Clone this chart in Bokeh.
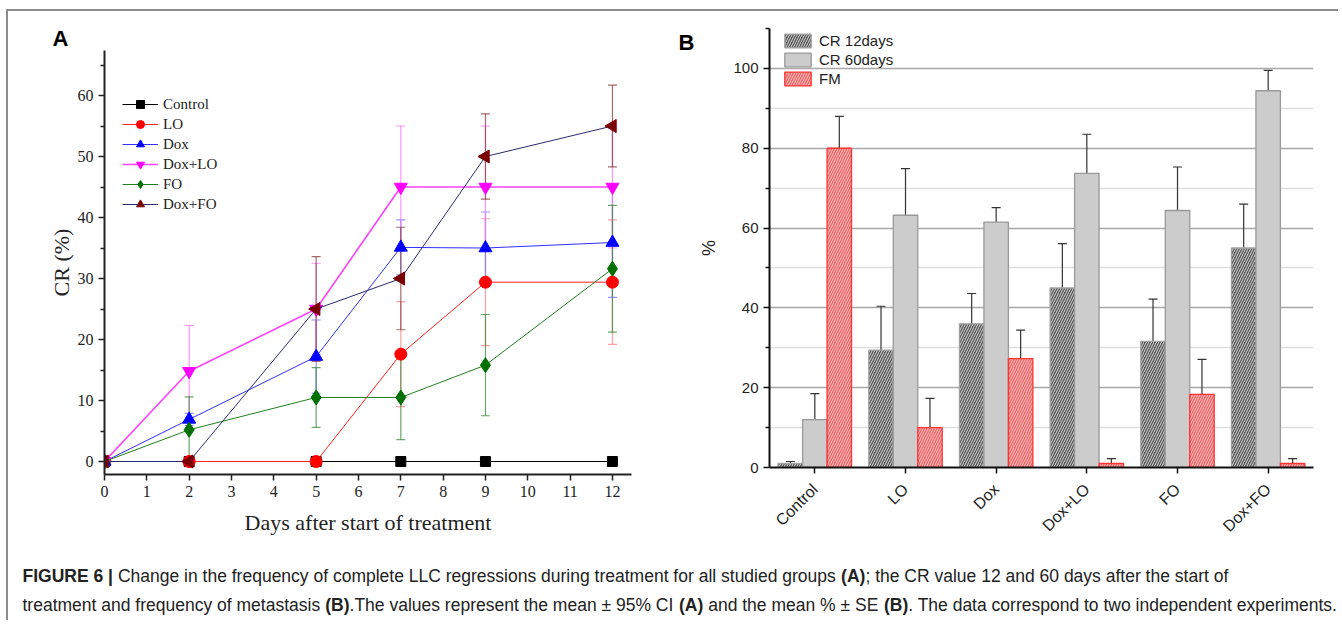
import numpy as np
from bokeh.plotting import figure
from bokeh.models import (Range1d, FactorRange, FixedTicker, Whisker, TeeHead,
                          ColumnDataSource, Title, Spacer)
from bokeh.transform import dodge
from bokeh.layouts import row, column
from bokeh.core.properties import value
from bokeh.embed import file_html
from bokeh.resources import INLINE

# ---------------- Panel A data ----------------
days = [0, 2, 5, 7, 9, 12]
series_a = ["Control", "LO", "Dox", "Dox+LO", "FO", "Dox+FO"]
cr_control = [0, 0, 0, 0, 0, 0]
cr_lo = [0, 0, 0, 17.6, 29.4, 29.4]
cr_dox = [0, 6.9, 17.2, 35.1, 35.0, 35.9]
cr_doxlo = [0, 14.8, 25.0, 45.0, 45.0, 45.0]
cr_fo = [0, 5.2, 10.5, 10.5, 15.8, 31.6]
cr_doxfo = [0, 0, 25.0, 30.0, 50.0, 55.0]
ci_control = [0, 0, 0, 0, 0, 0]
ci_lo = [0, 0, 0, 8.6, 10.4, 10.2]
ci_dox = [0, 1.0, 6.0, 4.5, 5.9, 9.0]
ci_doxlo = [0, 7.5, 7.5, 10.0, 10.0, 10.0]
ci_fo = [0, 5.4, 4.9, 6.9, 8.3, 10.4]
ci_doxfo = [0, 0, 8.6, 8.4, 7.0, 6.7]
a_xticks = list(range(0, 13))
a_yticks = [0, 10, 20, 30, 40, 50, 60]
a_yminor = [5, 15, 25, 35, 45, 55, 65]

# ---------------- Panel B data ----------------
groups = ["Control", "LO", "Dox", "Dox+LO", "FO", "Dox+FO"]
bar_series = ["CR 12days", "CR 60days", "FM"]
cr12 = [1.0, 29.4, 36.0, 45.0, 31.6, 55.0]
cr12_se = [0.5, 11.0, 7.6, 11.1, 10.6, 11.0]
cr60 = [12.0, 63.2, 61.5, 73.7, 64.4, 94.4]
cr60_se = [6.5, 11.7, 3.6, 9.8, 10.9, 5.1]
fm = [80.0, 10.0, 27.3, 1.0, 18.3, 1.0]
fm_se = [8.0, 7.3, 7.1, 1.2, 8.8, 1.2]
b_yticks = [0, 20, 40, 60, 80, 100]
b_yminor = [10, 30, 50, 70, 90, 110]

caption_line1 = [("FIGURE 6 | ", True),
                 ("Change in the frequency of complete LLC regressions during treatment for all studied groups ", False),
                 ("(A)", True),
                 ("; the CR value 12 and 60 days after the start of", False)]
caption_line2 = [("treatment and frequency of metastasis ", False),
                 ("(B)", True),
                 (".The values represent the mean \u00b1 95% CI ", False),
                 ("(A)", True),
                 (" and the mean % \u00b1 SE ", False),
                 ("(B)", True),
                 (". The data correspond to two independent experiments.", False)]

SERIF = "Liberation Serif"
SANS = "Liberation Sans"

# ================= Panel A =================
pA = figure(frame_width=527, frame_height=424, min_border_left=96, min_border_right=39,
            min_border_top=39, min_border_bottom=77,
            x_range=Range1d(0, 12.45), y_range=Range1d(-2.13, 67.38),
            output_backend="svg", toolbar_location=None)
pA.title = Title(text="A", text_font=SANS, text_font_style="bold", text_font_size="22px",
                 align="left", offset=-52, standoff=0, text_color="black")
pA.outline_line_color = None
pA.grid.visible = False

styles_a = [
    ("Control", cr_control, ci_control, "square", "black", "black", "#444444", 10, 0, 1),
    ("LO", cr_lo, ci_lo, "circle", "#ff0000", "#ff2020", "#ff8080", 12, 0, 1),
    ("Dox", cr_dox, ci_dox, "triangle", "#0000ff", "#3030ff", "#7070ff", 13, 0, 1),
    ("Dox+LO", cr_doxlo, ci_doxlo, "inverted_triangle", "#ff00ff", "#ff40ff", "#ff70ff", 13, 0, 1.6),
    ("FO", cr_fo, ci_fo, "diamond", "#007000", "#208020", "#3a8a3a", 15, 0, 1),
    ("Dox+FO", cr_doxfo, ci_doxfo, "triangle", "#7a0000", "#2a2a70", "#8a3a3a", 13, np.pi / 2, 1),
]

for name, vals, ci, mk, mcol, lcol, ecol, size, ang, lw in styles_a:
    x = np.array(days, dtype=float)
    y = np.array(vals, dtype=float)
    e = np.array(ci, dtype=float)
    m = e > 0
    if m.any():
        es = ColumnDataSource(dict(x=x[m], lo=(y - e)[m], hi=(y + e)[m]))
        w = Whisker(source=es, base="x", lower="lo", upper="hi", dimension="height",
                    line_color=ecol, line_alpha=0.75, line_width=1.2,
                    upper_head=TeeHead(size=9, line_color=ecol, line_alpha=0.75, line_width=1.2),
                    lower_head=TeeHead(size=9, line_color=ecol, line_alpha=0.75, line_width=1.2))
        pA.add_layout(w)

for name, vals, ci, mk, mcol, lcol, ecol, size, ang, lw in styles_a:
    src = ColumnDataSource(dict(x=days, y=vals))
    pA.line("x", "y", source=src, line_color=lcol, line_width=lw, legend_label=name)
    pA.scatter("x", "y", source=src, marker=mk, size=size, angle=ang,
               fill_color=mcol, line_color=mcol, legend_label=name)

pA.xaxis.ticker = FixedTicker(ticks=a_xticks)
pA.yaxis.ticker = FixedTicker(ticks=a_yticks, minor_ticks=a_yminor)
for ax in (pA.xaxis[0], pA.yaxis[0]):
    ax.axis_line_width = 2
    ax.axis_line_color = "#222222"
    ax.major_tick_line_color = "#222222"
    ax.major_tick_line_width = 1.5
    ax.major_tick_out = 6
    ax.major_tick_in = 0
    ax.minor_tick_out = 4
    ax.minor_tick_in = 0
    ax.minor_tick_line_color = "#222222"
    ax.minor_tick_line_width = 1.5
    ax.major_label_text_font = SERIF
    ax.major_label_text_font_size = "16px"
    ax.major_label_text_color = "#222222"
    ax.axis_label_text_font = SERIF
    ax.axis_label_text_font_size = "22px"
    ax.axis_label_text_font_style = "normal"
    ax.axis_label_text_color = "#222222"
pA.xaxis.minor_tick_line_color = None
pA.xaxis.axis_label = "Days after start of treatment"
pA.yaxis.axis_label = "CR (%)"
pA.xaxis.axis_label_standoff = 10
pA.yaxis.axis_label_standoff = 1

lgA = pA.legend[0]
lgA.location = (18, 260)
lgA.label_text_font = SERIF
lgA.label_text_font_size = "15px"
lgA.label_text_color = "#222222"
lgA.glyph_width = 36
lgA.glyph_height = 20
lgA.label_height = 20
lgA.label_standoff = 5
lgA.spacing = 0
lgA.padding = 0
lgA.margin = 0
lgA.background_fill_alpha = 0
lgA.border_line_color = None

# ================= Panel label B (narrow strip) =================
LAB_W, LAB_H = 24, 539
pLab = figure(frame_width=LAB_W, frame_height=LAB_H, min_border=0, title=None,
              x_range=Range1d(0, LAB_W), y_range=Range1d(LAB_H, 0),
              x_axis_location=None, y_axis_location=None,
              output_backend="svg", toolbar_location=None)
pLab.grid.visible = False
pLab.outline_line_color = None
pLab.text(x=[8], y=[30], text=["B"], text_font=value(SANS), text_font_style="bold",
          text_font_size="22px", text_baseline="middle", text_align="left", text_color="black")

# ================= Panel B =================
pB = figure(frame_width=544, frame_height=439, min_border_left=75, min_border_right=25,
            min_border_top=16, min_border_bottom=84, title=None,
            x_range=FactorRange(factors=groups, range_padding=0), y_range=Range1d(0, 110),
            output_backend="svg", toolbar_location=None)
pB.outline_line_color = None
pB.xgrid.visible = False
pB.ygrid.ticker = FixedTicker(ticks=b_yticks, minor_ticks=b_yminor)
pB.ygrid.grid_line_color = "#a8a8a8"
pB.ygrid.grid_line_width = 1.6
pB.ygrid.minor_grid_line_color = "#dedede"
pB.ygrid.minor_grid_line_width = 1.5

srcB = ColumnDataSource(dict(
    g=groups,
    cr12=cr12, cr12_lo=[v - e for v, e in zip(cr12, cr12_se)], cr12_hi=[v + e for v, e in zip(cr12, cr12_se)],
    cr60=cr60, cr60_lo=[v - e for v, e in zip(cr60, cr60_se)], cr60_hi=[v + e for v, e in zip(cr60, cr60_se)],
    fm=fm, fm_lo=[max(0, v - e) for v, e in zip(fm, fm_se)], fm_hi=[v + e for v, e in zip(fm, fm_se)],
))

bw = 0.27
bar_styles = [
    ("cr12", -bw, bar_series[0], dict(fill_color="#555555", hatch_pattern="/", hatch_color="#dadada",
                                       hatch_scale=5, hatch_weight=1, line_color="#a3a3a3", line_width=1.3)),
    ("cr60", 0.0, bar_series[1], dict(fill_color="#cccccc", line_color="#999999", line_width=1.3)),
    ("fm", bw, bar_series[2], dict(fill_color="#ee6868", hatch_pattern="/", hatch_color="#fbc2c2",
                                    hatch_scale=5, hatch_weight=1, line_color="#ff3333", line_width=1.3)),
]
for col, off, lab, st in bar_styles:
    pB.vbar(x=dodge("g", off, range=pB.x_range), top=col, width=bw, source=srcB,
            legend_label=lab, **st)
for col, off, lab, st in bar_styles:
    w = Whisker(source=srcB, base=dodge("g", off, range=pB.x_range), lower=col + "_lo",
                upper=col + "_hi", dimension="height", line_color="#333333", line_width=1.2,
                upper_head=TeeHead(size=9, line_color="#333333", line_width=1.2),
                lower_head=TeeHead(size=9, line_color="#333333", line_width=1.2))
    pB.add_layout(w)

pB.yaxis.ticker = FixedTicker(ticks=b_yticks, minor_ticks=b_yminor)
for ax in (pB.xaxis[0], pB.yaxis[0]):
    ax.axis_line_width = 2
    ax.axis_line_color = "#111111"
    ax.major_tick_line_color = "#111111"
    ax.major_tick_line_width = 1.5
    ax.major_tick_out = 6
    ax.major_tick_in = 0
    ax.minor_tick_out = 4
    ax.minor_tick_in = 0
    ax.minor_tick_line_color = "#111111"
    ax.minor_tick_line_width = 1.5
    ax.major_label_text_font = SANS
    ax.major_label_text_font_size = "15px"
    ax.major_label_text_color = "#222222"
    ax.axis_label_text_font = SANS
    ax.axis_label_text_font_size = "18px"
    ax.axis_label_text_font_style = "normal"
    ax.axis_label_text_color = "#222222"
pB.xaxis.major_label_orientation = np.pi / 4
pB.xaxis.major_label_text_font_size = "16px"
pB.xaxis.major_label_standoff = 13
pB.yaxis.axis_label = "%"
pB.yaxis.axis_label_standoff = 11

lgB = pB.legend[0]
lgB.location = (12, 380)
lgB.label_text_font = SANS
lgB.label_text_font_size = "15px"
lgB.label_text_color = "#222222"
lgB.glyph_width = 33
lgB.glyph_height = 17
lgB.label_height = 17
lgB.label_standoff = 5
lgB.spacing = 2
lgB.padding = 0
lgB.margin = 0
lgB.background_fill_alpha = 0
lgB.border_line_color = None

# ================= Caption =================
_reg = {}
for ch, w in zip(" !\"#$%&'()*+,-./", [278, 278, 355, 556, 556, 889, 667, 191, 333, 333, 389, 584, 278, 333, 278, 278]):
    _reg[ch] = w
for ch in "0123456789":
    _reg[ch] = 556
_reg.update({":": 278, ";": 278, "|": 260, "\u00b1": 584})
_reg.update(dict(zip("ABCDEFGHIJKLMNOPQRSTUVWXYZ",
                     [667, 667, 722, 722, 667, 611, 778, 722, 278, 500, 667, 556, 833, 722, 778, 667,
                      778, 722, 667, 611, 722, 667, 944, 667, 667, 611])))
_reg.update(dict(zip("abcdefghijklmnopqrstuvwxyz",
                     [556, 556, 500, 556, 556, 278, 556, 556, 222, 222, 500, 222, 833, 556, 556, 556,
                      556, 333, 500, 278, 556, 500, 722, 500, 500, 500])))
_bold = dict(_reg)
_bold.update(dict(zip("ABCDEFGHIJKLMNOPQRSTUVWXYZ",
                      [722, 722, 722, 722, 667, 611, 778, 722, 278, 556, 722, 611, 833, 722, 778, 667,
                       778, 722, 667, 611, 722, 667, 944, 667, 667, 611])))
_bold.update({"|": 280, "(": 333, ")": 333, " ": 278})


def text_em(s, bold):
    t = _bold if bold else _reg
    return sum(t.get(c, 556) for c in s) / 1000.0


CAP_W, CAP_H = 1330, 69
cap_left = 14
cap_right = 1329
line2_em = sum(text_em(s, b) for s, b in caption_line2)
fs = (cap_right - cap_left) / line2_em

pc = figure(frame_width=CAP_W, frame_height=CAP_H, min_border=0, title=None,
            x_range=Range1d(0, CAP_W), y_range=Range1d(CAP_H, 0),
            x_axis_location=None, y_axis_location=None,
            output_backend="svg", toolbar_location=None)
pc.grid.visible = False
pc.outline_line_color = None

for line, yy in ((caption_line1, 24), (caption_line2, 53)):
    xs, ys, ts, bs = [], [], [], []
    cx = cap_left
    for s, b in line:
        lead = len(s) - len(s.lstrip(" "))
        xs.append(cx + text_em(" " * lead, b) * fs)
        ys.append(yy)
        ts.append(s.strip(" "))
        bs.append("bold" if b else "normal")
        cx += text_em(s, b) * fs
    pc.text(x=xs, y=ys, text=ts, text_font=value(SANS), text_font_style=bs,
            text_font_size=value(f"{fs:.2f}px"), text_baseline="middle", text_align="left",
            text_color="#222222")

top_row = row(pA,
              column(Spacer(width=LAB_W, height=1), pLab),
              column(Spacer(width=644, height=1), pB))
layout = column(top_row, pc,
                styles={"border-top": "2px solid #8c8c8c", "border-left": "2px solid #8c8c8c",
                        "margin-top": "9px", "margin-left": "6px"})

open("out.html", "w").write(file_html(layout, INLINE))
